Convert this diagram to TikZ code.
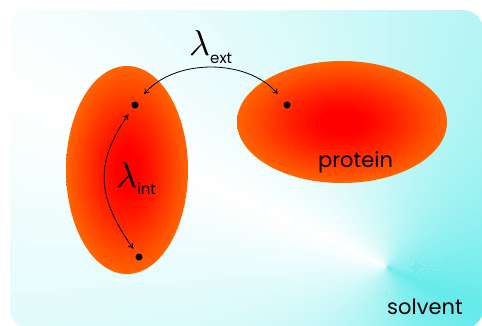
\documentclass[tikz,border=0pt]{standalone}
\usepackage{graphicx}
\usepackage{fontspec}
\setmainfont{Poppins}
\usetikzlibrary{arrows.meta,shapes.geometric}
\definecolor{solcyan}{RGB}{100,234,234}
\definecolor{protred}{RGB}{255,0,0}
\definecolor{protmid}{RGB}{255,30,0}
\definecolor{protorange}{RGB}{255,100,0}
\pgfdeclareradialshading{protshade}{\pgfpointorigin}{color(0bp)=(protred); color(5bp)=(protred); color(12bp)=(protmid); color(25bp)=(protorange); color(50bp)=(protorange)}
\newcommand{\biglam}{\scalebox{3.6}{$\lambda$}}
\begin{document}
\begin{tikzpicture}[x=1pt,y=-1pt,
  prot/.style={ellipse,shading=protshade,inner sep=0pt},
  dotnode/.style={circle,fill=black,inner sep=0pt,minimum size=7pt},
  link/.style={{To[length=5pt,width=6pt]}-{To[length=5pt,width=6pt]},line width=0.8pt},
  lbl/.style={anchor=base west,inner sep=0pt},
  big/.style={font=\fontsize{21}{21}\selectfont}]
\useasboundingbox (0,0) rectangle (482,325);
% solvent background (conic gradient)
\begin{scope}
  \clip[rounded corners=20pt] (10,10) rectangle (483,329);
  \foreach \a in {0,2,...,358}{
    \pgfmathsetmacro\f{(180-abs(mod(\a+1-205+720,360)-180))/1.8}
    \fill[solcyan!\f!white] (387,267) -- +(\a:800) -- +(\a+2.3:800) -- cycle;
  }
\end{scope}
% molecules
\node[prot,minimum width=122pt,minimum height=208pt] (mola) at (127,170) {};
\node[prot,minimum width=210pt,minimum height=122pt] (molb) at (342,122) {};
% atoms
\node[dotnode] (a1) at (135,105) {};
\node[dotnode] (b1) at (287,105) {};
\node[dotnode] (a2) at (139,257) {};
% interactions
\draw[link,shorten <=10.5pt,shorten >=10.5pt] (a1) to[out=50,in=130] (b1);
\draw[link,shorten <=7.7pt,shorten >=6.5pt] (a1) to[out=235,in=125,looseness=1.2] (a2);
% labels
\node[lbl] (lext) at (189,55) {\biglam\raisebox{-8pt}{\fontsize{15}{15}\selectfont ext}};
\node[lbl] (lint) at (116,187) {\biglam\raisebox{-7pt}{\fontsize{15}{15}\selectfont int}};
\node[lbl,big] (ptxt) at (318,167) {protein};
\node[lbl,big] (stxt) at (387,314) {solvent};
\end{tikzpicture}
\end{document}
